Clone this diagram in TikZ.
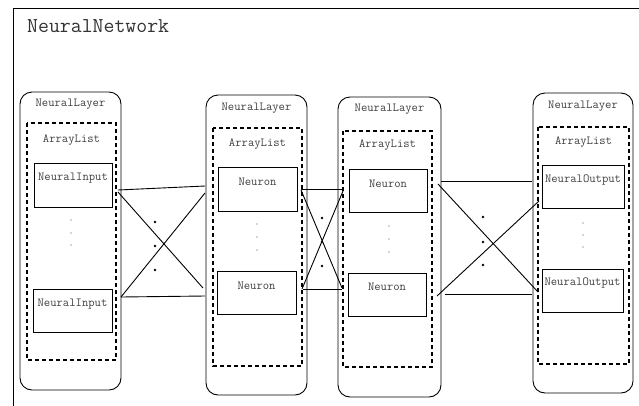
\documentclass[tikz,border=0pt]{standalone}
\begin{document}
\begin{tikzpicture}[x=1pt,y=-1pt,
  layer/.style={draw,rounded corners=12pt,line width=0.9pt},
  alist/.style={draw,dashed,dash pattern=on 4pt off 3pt,line width=1.8pt},
  cell/.style={draw,line width=0.9pt},
  lbl/.style={font=\ttfamily\fontsize{12.3}{13}\selectfont,text=black!75,inner sep=0pt},
  conn/.style={line width=0.9pt},
  bigdot/.style={circle,fill=black,inner sep=0pt,minimum size=2.6pt},
  smalldot/.style={circle,fill=black!70,inner sep=0pt,minimum size=1.4pt}]
\useasboundingbox (0,0) rectangle (639,405);
\clip (0,0) rectangle (639,405);
% frame
\draw[line width=1pt] (13,420) -- (13,8) -- (660,8);
\node[anchor=west,font=\ttfamily\fontsize{21.2}{23}\selectfont,text=black!80,inner sep=0pt] (title) at (27,26) {NeuralNetwork};

% layer 1
\draw[layer] (20,92) rectangle (121,390);
\node[lbl] (l1) at (70.5,104) {NeuralLayer};
\draw[alist] (27,123) rectangle (116,360);
\node[lbl] (a1) at (71.5,140) {ArrayList};
\draw[cell] (34,163) rectangle (112,207);
\node[lbl] (i1t) at (73,178) {NeuralInput};
\draw[cell] (33,289) rectangle (112,332);
\node[lbl] (i2t) at (72.5,304) {NeuralInput};
\node[smalldot] (d11) at (71,220) {};
\node[smalldot] (d12) at (71,233) {};
\node[smalldot] (d13) at (71,245) {};

% layer 2
\draw[layer] (206,95) rectangle (307,395);
\node[lbl] (l2) at (256.5,108) {NeuralLayer};
\draw[alist] (213,128) rectangle (302,366);
\node[lbl] (a2) at (257.5,144) {ArrayList};
\draw[cell] (218,167) rectangle (297,211);
\node[lbl] (n21t) at (257.5,182) {Neuron};
\draw[cell] (217,271) rectangle (296,314);
\node[lbl] (n22t) at (256.5,286) {Neuron};
\node[smalldot] (d21) at (257,224) {};
\node[smalldot] (d22) at (257,237) {};
\node[smalldot] (d23) at (257,250) {};

% layer 3
\draw[layer] (338,97) rectangle (441,397);
\node[lbl] (l3) at (389.5,109) {NeuralLayer};
\draw[alist] (343,131) rectangle (432,367);
\node[lbl] (a3) at (387.5,145) {ArrayList};
\draw[cell] (349,169) rectangle (427,212);
\node[lbl] (n31t) at (388,184) {Neuron};
\draw[cell] (348,273) rectangle (426,316);
\node[lbl] (n32t) at (387,287) {Neuron};
\node[smalldot] (d31) at (389,226) {};
\node[smalldot] (d32) at (389,239) {};
\node[smalldot] (d33) at (389,252) {};

% layer 4
\draw[layer] (533,93) rectangle (633,393);
\node[lbl] (l4) at (583,106) {NeuralLayer};
\draw[alist] (538,127) rectangle (629,364);
\node[lbl] (a4) at (583.5,142) {ArrayList};
\draw[cell] (542,165) rectangle (624,208);
\node[lbl] (o1t) at (583,180) {NeuralOutput};
\draw[cell] (542,269) rectangle (623,312);
\node[lbl] (o2t) at (582.5,283) {NeuralOutput};
\node[smalldot] (d41) at (583,223) {};
\node[smalldot] (d42) at (583,235) {};
\node[smalldot] (d43) at (583,247) {};

% connector end points
\coordinate (p1a) at (118,190); \coordinate (q1a) at (205,186);
\coordinate (p1b) at (118,192); \coordinate (q1b) at (203,288);
\coordinate (p1c) at (121,297); \coordinate (q1c) at (205,296);
\coordinate (p1d) at (121,297); \coordinate (q1d) at (205,193);

\coordinate (p2a) at (301,189); \coordinate (q2a) at (342,189);
\coordinate (p2b) at (301,190); \coordinate (q2b) at (342,288);
\coordinate (p2c) at (303,289); \coordinate (q2c) at (342,289);
\coordinate (p2d) at (302,289); \coordinate (q2d) at (343,191);

\coordinate (p3a) at (441,181); \coordinate (q3a) at (532,181);
\coordinate (p3b) at (438,184); \coordinate (q3b) at (538,292);
\coordinate (p3c) at (445,294); \coordinate (q3c) at (532,294);
\coordinate (p3d) at (437,296); \coordinate (q3d) at (539,201);

\foreach \i in {1,2,3}{
  \foreach \j in {a,b,c,d}{
    \draw[conn] (p\i\j) -- (q\i\j);
  }
}

% dots between layers
\node[bigdot] (e11) at (155,222) {};
\node[bigdot] (e12) at (155,246) {};
\node[bigdot] (e13) at (155,270) {};
\node[bigdot] (e21) at (322,218) {};
\node[bigdot] (e22) at (322,242) {};
\node[bigdot] (e23) at (322,266) {};
\node[bigdot] (e31) at (483,217) {};
\node[bigdot] (e32) at (483,242) {};
\node[bigdot] (e33) at (483,265) {};
\end{tikzpicture}
\end{document}
